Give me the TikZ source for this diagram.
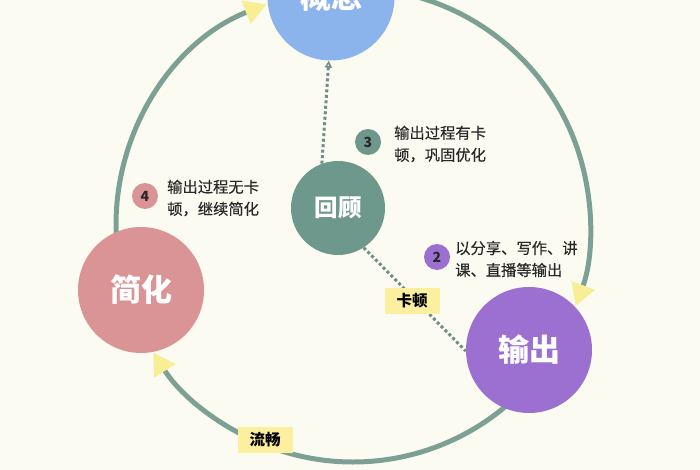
\documentclass[tikz,border=0pt]{standalone}
\usepackage{fontspec}
\setmainfont{Noto Sans CJK SC}
\newfontfamily\notefont[FakeBold=0.4]{Noto Sans CJK SC}
\usetikzlibrary{arrows.meta}
\definecolor{bgc}{RGB}{252,251,241}
\definecolor{ringc}{RGB}{124,161,148}
\definecolor{dotc}{RGB}{112,142,132}
\definecolor{blueC}{RGB}{140,180,236}
\definecolor{tealC}{RGB}{110,152,140}
\definecolor{pinkC}{RGB}{218,148,150}
\definecolor{purpC}{RGB}{155,112,208}
\definecolor{tipY}{RGB}{248,238,150}
\definecolor{labY}{RGB}{252,240,160}
\definecolor{txtC}{RGB}{40,40,40}
\begin{document}
\begin{tikzpicture}[x=1pt,y=-1pt,
  bigc/.style={circle, inner sep=0pt, text=white, font=\fontsize{31}{31}\selectfont\bfseries},
  numc/.style={circle, inner sep=0pt, minimum size=26pt, text=txtC, font=\fontsize{14}{14}\selectfont\bfseries},
  note/.style={anchor=west, inner sep=0pt, align=left, text=txtC, font=\notefont\fontsize{15.3}{22}\selectfont},
  labbox/.style={fill=labY, inner sep=0pt, minimum width=55pt, minimum height=26pt, font=\fontsize{15.5}{15.5}\selectfont\bfseries},
  ring/.style={draw=ringc, line width=5pt, -{Triangle[color=tipY, length=22pt, width=24pt]}},
  dotline/.style={draw=dotc, line width=3pt, dash pattern=on 3pt off 2.5pt}
]
\fill[bgc] (0,0) rectangle (700,470);
\useasboundingbox (0,0) rectangle (700,470);
\clip (0,0) rectangle (700,470);
\coordinate (rc) at (353,225);
% ring arcs
\draw[ring] ([shift={(176:237)}]rc) arc[start angle=176, end angle=248.6, radius=237];
\draw[ring] ([shift={(283:237)}]rc) arc[start angle=283, end angle=380, radius=237];
\draw[ring] ([shift={(48:237)}]rc) arc[start angle=48, end angle=147.5, radius=237];
% big nodes
\node[bigc, fill=blueC, minimum size=127pt] (gainian) at (331,-3) {概念};
\node[bigc, fill=tealC, minimum size=94pt, font=\fontsize{23.5}{23.5}\selectfont\bfseries] (huigu) at (338,208) {回顾};
\node[bigc, fill=pinkC, minimum size=126pt] (jianhua) at (141,290) {简化};
\node[bigc, fill=purpC, minimum size=126pt] (shuchu) at (529,350) {输出};
% dotted connectors
\draw[dotline, -{Triangle[open, length=7pt, width=7pt, line width=1.5pt]}] (huigu.110) -- (gainian.268);
\draw[dotline] (huigu.-57) -- (shuchu.181);
\node[labbox] (kadun) at (412,301) {卡顿};
% fluency label on ring
\node[labbox] (liuchang) at (265,440) {流畅};
% numbered notes
\node[numc, fill=tealC] (n3) at (368,142) {3};
\node[note] (t3) at (394,144) {输出过程有卡\\顿，巩固优化};
\node[numc, fill=pinkC] (n4) at (145,196) {4};
\node[note] (t4) at (167,198) {输出过程无卡\\顿，继续简化};
\node[numc, fill=purpC] (n2) at (437,257) {2};
\node[note] (t2) at (455,259) {以分享、写作、讲\\课、直播等输出};
\end{tikzpicture}
\end{document}
